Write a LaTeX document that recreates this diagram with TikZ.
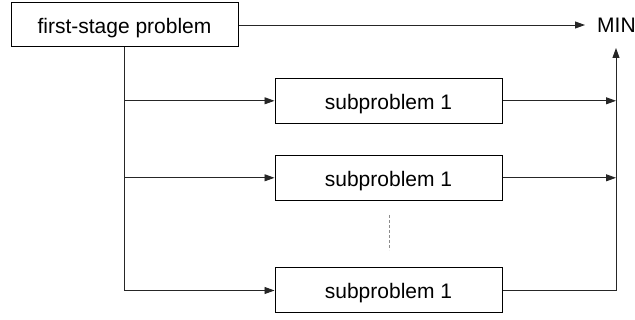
\documentclass[tikz,border=0pt]{standalone}
\usepackage{fontspec}
\setmainfont{Liberation Sans}
\usetikzlibrary{arrows.meta}
\begin{document}
\begin{tikzpicture}[x=1pt,y=1pt,
  stagebox/.style={draw=black,line width=1pt,fill=white,minimum width=227pt,minimum height=44pt,inner sep=0pt,text height=20pt,text depth=3pt,font=\fontsize{21}{25}\selectfont},
  link/.style={draw=black!85,line width=0.9pt},
  arr/.style={link,-{Triangle[length=10pt,width=7pt]}},
  lbl/.style={inner sep=0pt,font=\fontsize{21}{25}\selectfont}]
\useasboundingbox (0,0) rectangle (635,-320);
% boxes
\node[stagebox] (fs) at (124.5,-25) {first-stage problem};
\node[stagebox,minimum height=45pt] (s1) at (388.5,-100.8) {subproblem 1};
\node[stagebox,minimum height=45pt] (s2) at (388.5,-177.8) {subproblem 1};
\node[stagebox,minimum height=45pt] (s3) at (388.5,-290.5) {subproblem 1};
\node[lbl,anchor=west] (min) at (597,-25) {MIN};
\coordinate (join) at (616,-48);
% first-stage result straight to MIN
\draw[arr,shorten >=12pt] (fs.east) -- (min.west);
% distribution to the subproblems
\draw[arr] (fs.south) |- (s3.west);
\draw[arr] (fs.south |- s1.west) -- (s1.west);
\draw[arr] (fs.south |- s2.west) -- (s2.west);
% collection towards MIN
\draw[arr] (s3.east) -| (join);
\draw[arr] (s1.east) -- (s1.east -| join);
\draw[arr] (s2.east) -- (s2.east -| join);
% elided subproblems
\draw[black!45,line width=1pt,dash pattern=on 3pt off 2pt] (389,-215) -- (389,-250);
\end{tikzpicture}
\end{document}
